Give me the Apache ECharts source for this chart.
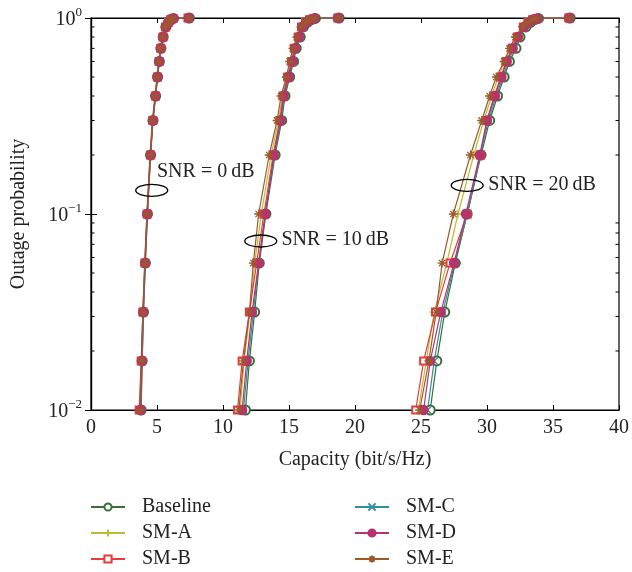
<!DOCTYPE html>
<html>
<head>
<meta charset="utf-8">
<script src="https://cdn.jsdelivr.net/npm/echarts@6/dist/echarts.min.js"></script>
<style>
  html, body { margin: 0; padding: 0; background: #fff; }
  #chart { width: 632px; height: 572px; }
</style>
</head>
<body>
<div id="chart"></div>
<script>
// outage probability levels shared by every curve
const probLevels = [0.01, 0.0178, 0.0316, 0.0562, 0.1, 0.2, 0.3, 0.4, 0.5, 0.6, 0.7, 0.8, 0.9, 0.95, 0.98, 0.995, 1];

// capacity (bit/s/Hz) per scheme, one array per SNR
const baselineSnr0 = [3.8, 3.88, 3.98, 4.12, 4.28, 4.52, 4.7, 4.9, 5.05, 5.18, 5.3, 5.47, 5.68, 5.88, 6.05, 6.25, 7.45];
const baselineSnr10 = [11.7, 12.0, 12.4, 12.75, 13.25, 13.95, 14.45, 14.7, 15.05, 15.35, 15.55, 15.85, 16.1, 16.4, 16.7, 17.0, 18.8];
const baselineSnr20 = [25.7, 26.2, 26.8, 27.6, 28.5, 29.55, 30.2, 30.8, 31.3, 31.7, 32.2, 32.5, 32.95, 33.3, 33.6, 33.9, 36.3];

const smASnr0 = [3.72, 3.82, 3.93, 4.08, 4.24, 4.48, 4.66, 4.86, 5.01, 5.14, 5.26, 5.43, 5.64, 5.84, 6.0, 6.2, 7.4];
const smASnr10 = [11.3, 11.6, 12.05, 12.4, 12.9, 13.65, 14.2, 14.5, 14.85, 15.15, 15.35, 15.65, 15.95, 16.25, 16.55, 16.9, 18.7];
const smASnr20 = [24.8, 25.4, 26.0, 26.95, 27.8, 29.0, 29.75, 30.35, 30.85, 31.35, 31.8, 32.2, 32.7, 33.05, 33.4, 33.75, 36.2];

const smBSnr0 = [3.65, 3.8, 3.93, 4.08, 4.25, 4.5, 4.68, 4.88, 5.03, 5.16, 5.28, 5.45, 5.65, 5.86, 6.02, 6.22, 7.35];
const smBSnr10 = [11.1, 11.45, 12.0, 12.55, 13.1, 13.8, 14.3, 14.55, 14.9, 15.2, 15.4, 15.7, 15.95, 16.25, 16.55, 16.9, 18.7];
const smBSnr20 = [24.6, 25.2, 26.1, 27.2, 28.5, 29.5, 30.0, 30.55, 31.05, 31.45, 31.9, 32.3, 32.75, 33.1, 33.45, 33.8, 36.2];

const smCSnr0 = [3.78, 3.87, 3.97, 4.11, 4.27, 4.51, 4.69, 4.89, 5.04, 5.17, 5.29, 5.46, 5.67, 5.87, 6.04, 6.24, 7.4];
const smCSnr10 = [11.55, 11.9, 12.3, 12.7, 13.2, 13.9, 14.4, 14.65, 15.0, 15.3, 15.5, 15.8, 16.05, 16.35, 16.65, 16.95, 18.7];
const smCSnr20 = [25.5, 26.0, 26.65, 27.55, 28.5, 29.5, 30.1, 30.7, 31.2, 31.6, 32.05, 32.4, 32.85, 33.2, 33.5, 33.85, 36.2];

const smDSnr0 = [3.75, 3.85, 3.95, 4.1, 4.26, 4.5, 4.68, 4.88, 5.03, 5.16, 5.28, 5.45, 5.66, 5.86, 6.03, 6.23, 7.4];
const smDSnr10 = [11.45, 11.8, 12.2, 12.7, 13.2, 13.85, 14.35, 14.6, 14.95, 15.25, 15.45, 15.75, 16.0, 16.3, 16.6, 16.9, 18.7];
const smDSnr20 = [25.2, 25.7, 26.5, 27.5, 28.4, 29.45, 30.0, 30.6, 31.1, 31.5, 31.95, 32.35, 32.8, 33.15, 33.45, 33.8, 36.2];

const smESnr0 = [3.7, 3.82, 3.93, 4.07, 4.23, 4.47, 4.65, 4.85, 5.0, 5.13, 5.25, 5.42, 5.63, 5.83, 6.0, 6.2, 7.4];
const smESnr10 = [11.2, 11.55, 12.0, 12.3, 12.7, 13.5, 14.1, 14.4, 14.8, 15.05, 15.3, 15.6, 15.9, 16.2, 16.5, 16.85, 18.7];
const smESnr20 = [24.9, 25.6, 26.15, 26.6, 27.45, 28.75, 29.6, 30.2, 30.7, 31.3, 31.7, 32.15, 32.7, 33.05, 33.4, 33.75, 36.2];

// axis ticks
const xTicks = [0, 5, 10, 15, 20, 25, 30, 35, 40];
const yMinorTicks = [0.02, 0.03, 0.04, 0.05, 0.06, 0.07, 0.08, 0.09, 0.2, 0.3, 0.4, 0.5, 0.6, 0.7, 0.8, 0.9];

// SNR annotations: ellipse centre and label anchor, in data units
const annText = ["SNR = 0\u2009dB", "SNR = 10\u2009dB", "SNR = 20\u2009dB"];
const annEllipseX = [4.6, 12.86, 28.5];
const annEllipseY = [0.132, 0.0728, 0.14];
const annLabelX = [5.0, 14.43, 30.1];
const annLabelY = [0.164, 0.0737, 0.1406];

const FONT = "'Liberation Serif', 'DejaVu Serif', serif";
const TEXT_COLOR = "#222";

const schemes = [
  { name: "Baseline", color: "#3a6e3a", symbol: "emptyCircle", size: 9, curves: [baselineSnr0, baselineSnr10, baselineSnr20] },
  { name: "SM-A", color: "#bcbc2e", symbol: "path://M0,-1L0,1M-1,0L1,0", size: 9, curves: [smASnr0, smASnr10, smASnr20] },
  { name: "SM-B", color: "#e83a3a", symbol: "emptyRect", size: 7, curves: [smBSnr0, smBSnr10, smBSnr20] },
  { name: "SM-C", color: "#2f8fa0", symbol: "path://M-1,-1L1,1M-1,1L1,-1", size: 7, curves: [smCSnr0, smCSnr10, smCSnr20] },
  { name: "SM-D", color: "#b8326e", symbol: "circle", size: 9, curves: [smDSnr0, smDSnr10, smDSnr20] },
  { name: "SM-E", color: "#9c5a2a", symbol: "path://M0,-1L0,1M-1,0L1,0M-0.7,-0.7L0.7,0.7M-0.7,0.7L0.7,-0.7", size: 9, curves: [smESnr0, smESnr10, smESnr20] },
];

let series = [];
schemes.forEach(function (s) {
  s.curves.forEach(function (caps) {
    series.push({
      name: s.name,
      type: "line",
      data: caps.map(function (c, i) { return [c, probLevels[i]]; }),
      color: s.color,
      symbol: s.symbol,
      symbolSize: s.size,
      showAllSymbol: true,
      lineStyle: { width: 1.2, color: s.color },
      itemStyle: {
        color: s.symbol.indexOf("path") === 0 ? "rgba(0,0,0,0)" : s.color,
        borderColor: s.color,
        borderWidth: 1.3,
      },
      emphasis: { disabled: true },
      animation: false,
      z: 3,
    });
  });
});

// minor ticks of the log axis, both sides of the box
series.push({
  type: "custom",
  silent: true,
  animation: false,
  data: yMinorTicks.map(function (v) { return [0, v]; }),
  renderItem: function (params, api) {
    const cs = params.coordSys;
    const y = api.coord([0, api.value(1)])[1];
    const st = { stroke: "#000", lineWidth: 1 };
    return {
      type: "group",
      children: [
        { type: "line", shape: { x1: cs.x, y1: y, x2: cs.x + 3.5, y2: y }, style: st },
        { type: "line", shape: { x1: cs.x + cs.width - 3.5, y1: y, x2: cs.x + cs.width, y2: y }, style: st },
      ],
    };
  },
  z: 5,
});

// ellipses and SNR labels
series.push({
  type: "custom",
  silent: true,
  animation: false,
  data: annText.map(function (t, i) { return [annEllipseX[i], annEllipseY[i], annLabelX[i], annLabelY[i]]; }),
  renderItem: function (params, api) {
    const c = api.coord([api.value(0), api.value(1)]);
    const l = api.coord([api.value(2), api.value(3)]);
    return {
      type: "group",
      children: [
        { type: "ellipse", shape: { cx: c[0], cy: c[1], rx: 16, ry: 6 }, style: { fill: "none", stroke: "#000", lineWidth: 1.3 } },
        { type: "text", style: { text: annText[params.dataIndex], x: l[0], y: l[1], align: "left", verticalAlign: "middle", font: "20px " + FONT, fill: TEXT_COLOR } },
      ],
    };
  },
  z: 6,
});

const legendCommon = {
  orient: "vertical",
  top: 497,
  padding: 0,
  itemWidth: 34,
  itemHeight: 9,
  itemGap: 6,
  textStyle: { fontFamily: FONT, fontSize: 20, lineHeight: 20, color: TEXT_COLOR, padding: [0, 0, 0, 12] },
  selectedMode: false,
};

const chart = echarts.init(document.getElementById("chart"));
chart.setOption({
  animation: false,
  backgroundColor: "#fff",
  grid: { left: 91, right: 12, top: 18, bottom: 162, show: true, borderColor: "#000", borderWidth: 1.2, backgroundColor: "transparent" },
  legend: [
    Object.assign({ left: 90, data: ["Baseline", "SM-A", "SM-B"] }, legendCommon),
    Object.assign({ left: 354, data: ["SM-C", "SM-D", "SM-E"] }, legendCommon),
  ],
  xAxis: [
    {
      type: "value",
      min: xTicks[0],
      max: xTicks[xTicks.length - 1],
      interval: 5,
      name: "Capacity (bit/s/Hz)",
      nameLocation: "middle",
      nameGap: 40,
      nameTextStyle: { fontFamily: FONT, fontSize: 20, color: TEXT_COLOR },
      axisLine: { lineStyle: { color: "#000", width: 1.2 } },
      axisTick: { inside: true, length: 5, lineStyle: { color: "#000" } },
      axisLabel: { fontFamily: FONT, fontSize: 20, color: TEXT_COLOR, margin: 8 },
      splitLine: { show: false },
    },
    {
      type: "value",
      position: "top",
      min: xTicks[0],
      max: xTicks[xTicks.length - 1],
      interval: 5,
      axisLine: { lineStyle: { color: "#000", width: 1.2 } },
      axisTick: { inside: true, length: 5, lineStyle: { color: "#000" } },
      axisLabel: { show: false },
      splitLine: { show: false },
    },
  ],
  yAxis: [
    {
      type: "log",
      logBase: 10,
      min: 0.01,
      max: 1,
      name: "Outage probability",
      nameLocation: "middle",
      nameGap: 62,
      nameTextStyle: { fontFamily: FONT, fontSize: 20, color: TEXT_COLOR },
      axisLine: { show: true, lineStyle: { color: "#000", width: 1.2 } },
      axisTick: { inside: true, length: 6, lineStyle: { color: "#000" } },
      axisLabel: {
        margin: 9,
        formatter: function (v) {
          const e = Math.round(Math.log10(v));
          return "{b|10}{s|" + (e < 0 ? "\u2212" + (-e) : e) + "}";
        },
        rich: {
          b: { fontFamily: FONT, fontSize: 20, color: TEXT_COLOR, lineHeight: 24, verticalAlign: "bottom" },
          s: { fontFamily: FONT, fontSize: 13, color: TEXT_COLOR, lineHeight: 24, verticalAlign: "top", padding: [0, 0, 10, 0] },
        },
      },
      splitLine: { show: false },
    },
    {
      type: "log",
      logBase: 10,
      min: 0.01,
      max: 1,
      position: "right",
      axisLine: { show: true, lineStyle: { color: "#000", width: 1.2 } },
      axisTick: { inside: true, length: 6, lineStyle: { color: "#000" } },
      axisLabel: { show: false },
      splitLine: { show: false },
    },
  ],
  series: series,
});
</script>
</body>
</html>
